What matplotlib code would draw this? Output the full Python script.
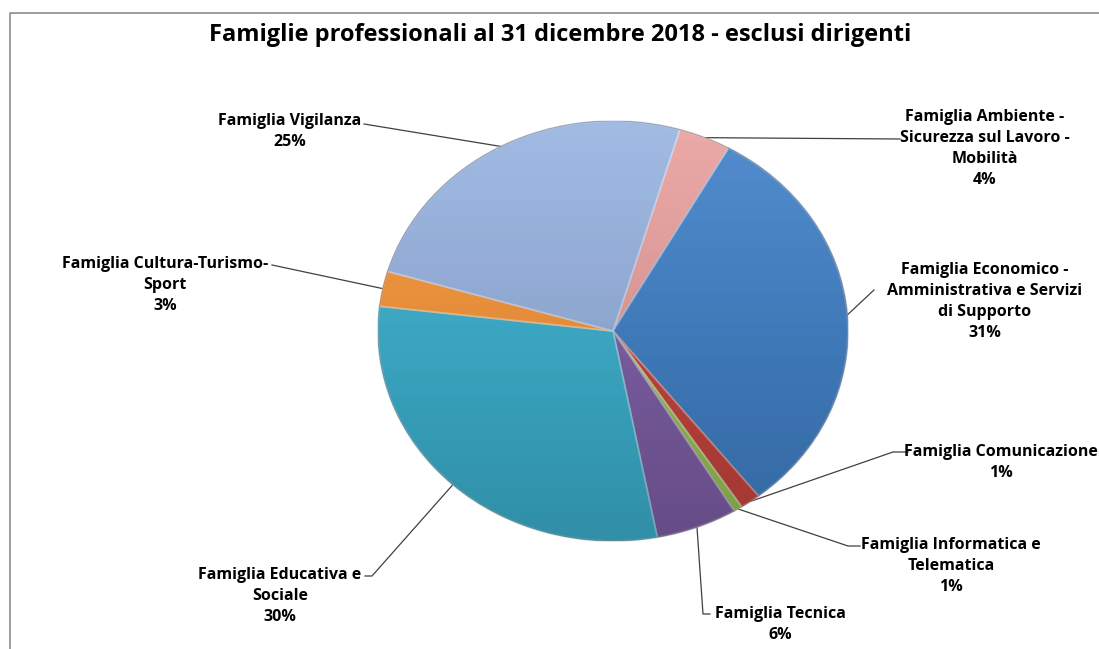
import numpy as np
import matplotlib
matplotlib.use("Agg")
import matplotlib.pyplot as plt
from matplotlib.patches import Circle
from matplotlib.colors import to_rgb

# data (clockwise from the top, as in the original chart)
labels = ["Famiglia Ambiente -\nSicurezza sul Lavoro -\nMobilità",
          "Famiglia Economico -\nAmministrativa e Servizi\ndi Supporto",
          "Famiglia Comunicazione",
          "Famiglia Informatica e\nTelematica",
          "Famiglia Tecnica",
          "Famiglia Educativa e\nSociale",
          "Famiglia Cultura-Turismo-\nSport",
          "Famiglia Vigilanza"]
values = [3.6, 31.2, 1.4, 0.6, 5.6, 29.9, 2.7, 25.0]
colors = ["#e8a09e", "#4282c8", "#c8453f", "#9bc256",
          "#8060a8", "#3db2d0", "#f7963a", "#97b3e0"]
title = "Famiglie professionali al 31 dicembre 2018 - esclusi dirigenti"

# layout in pixels
W, H = 1099, 649
cx, cy, rx, ry = 613, 331, 235, 210
# text centre x and top of first line, leader path points (label side)
label_pos = [(985, 109), (985, 262), (1001, 444), (951, 537),
             (780, 606), (280, 567), (165, 256), (290, 113)]
leader_pts = [[(900, 139)],
              [(874, 290)],
              [(908, 452), (893, 452)],
              [(860, 546), (848, 546)],
              [(710, 614), (703, 614)],
              [(365, 576), (372, 576)],
              [(272, 265)],
              [(364, 124)]]

FONT = "Open Sans"


def fbox(x0, y0, w, h):
    return [x0 / W, 1 - (y0 + h) / H, w / W, h / H]


fig = plt.figure(figsize=(W / 100, H / 100), dpi=100)
fig.patch.set_facecolor("white")

ax_top = fig.add_axes([0, 0, 1, 1])
ax_top.set_xlim(0, W)
ax_top.set_ylim(H, 0)
ax_top.axis("off")

# chart frame (left and top edges visible)
ax_top.plot([10, 10, W + 5], [H + 5, 13, 13], color="#8c8c8c", lw=1.2)

ax_pie = fig.add_axes(fbox(cx - rx, cy - ry, 2 * rx, 2 * ry))
edge = [tuple(0.5 * np.array(to_rgb(c)) + 0.5) for c in colors]
wedges, _ = ax_pie.pie(values, colors=colors, startangle=73.5,
                       counterclock=False, radius=1,
                       wedgeprops=dict(linewidth=0))
for w_, e in zip(wedges, edge):
    w_.set_edgecolor(e + (0.7,))
    w_.set_linewidth(1.3)
ax_pie.set_aspect("auto")
ax_pie.set_xlim(-1, 1)
ax_pie.set_ylim(-1, 1)
ax_pie.axis("off")

# soft shading: lighter at the top, darker toward the bottom
yy = np.linspace(1, 0, 200)[:, None] * np.ones((1, 200))
shade = np.zeros((200, 200, 4))
shade[..., 3] = 0.2 * (1 - yy) ** 1.3
top = np.zeros((200, 200, 4))
top[..., :3] = 1
top[..., 3] = 0.1 * yy ** 2
clip = Circle((0, 0), 1, transform=ax_pie.transData)
for img in (top, shade):
    im = ax_pie.imshow(img, extent=(-1, 1, -1, 1), aspect="auto", zorder=5)
    im.set_clip_path(clip)
# thin darker rim
ax_pie.add_patch(Circle((0, 0), 1, fill=False, ec="#000000", alpha=0.25,
                        lw=0.8, zorder=6))

# labels with leader lines
for lab, v, w_, (tx, ty), pts in zip(labels, values, wedges, label_pos, leader_pts):
    mid = np.deg2rad((w_.theta1 + w_.theta2) / 2)
    ex = cx + rx * np.cos(mid)
    ey = cy - ry * np.sin(mid)
    xs = [p[0] for p in pts] + [ex]
    ys = [p[1] for p in pts] + [ey]
    ax_top.plot(xs, ys, color="#404040", lw=0.9)
    ax_top.text(tx, ty, lab + "\n%.0f%%" % v, ha="center", va="top",
                fontsize=11.5, fontweight="bold", family=FONT,
                linespacing=1.42, color="black")

ax_top.text(560, 23, title, ha="center", va="top", fontsize=17,
            fontweight="bold", family=FONT, color="black")

fig.savefig("out.png", dpi=100)
